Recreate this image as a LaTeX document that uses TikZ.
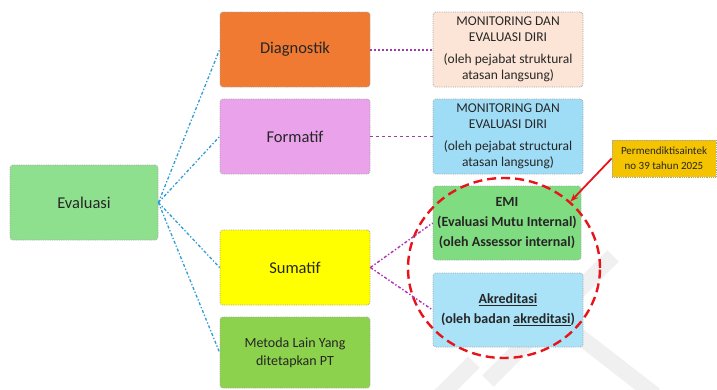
\documentclass[tikz,border=0pt]{standalone}
\usepackage{fontspec}
\setmainfont{Carlito}
\usetikzlibrary{shapes.geometric,arrows.meta}
\definecolor{evalgreen}{HTML}{8EE08E}
\definecolor{diagorange}{HTML}{F07A32}
\definecolor{formpink}{HTML}{EAA2EA}
\definecolor{sumyellow}{HTML}{FFFF00}
\definecolor{metgreen}{HTML}{8DD24C}
\definecolor{monpeach}{HTML}{FCE4D6}
\definecolor{monblue}{HTML}{9FDDF7}
\definecolor{emigreen}{HTML}{80DC80}
\definecolor{akrblue}{HTML}{AAE3F8}
\definecolor{permgold}{HTML}{F5C400}
\definecolor{linkblue}{HTML}{2E9BD6}
\definecolor{linkpurple}{HTML}{9B3FA5}
\definecolor{ringred}{HTML}{E8141B}
\begin{document}
\begin{tikzpicture}[x=1pt,y=-1pt,
  box/.style={draw=gray!70, line width=0.8pt, densely dotted, rounded corners=3pt, minimum width=150pt,
    minimum height=75pt, inner sep=2pt, align=center, text=black!85},
  bigtext/.style={font=\fontsize{16.5}{20}\selectfont},
  midtext/.style={font=\fontsize{13.5}{15.5}\selectfont},
  boldtext/.style={font=\bfseries\fontsize{14}{20}\selectfont},
  bluelink/.style={draw=linkblue, line width=1.3pt, dash dot},
  mark stripe/.style={draw=gray!12, line width=16pt}]
  \useasboundingbox (0,0) rectangle (717,389);
  % watermark
  \draw[mark stripe] (613,256) -- (488,381);
  \draw[mark stripe] (548,312) -- (655,395);
  \draw[mark stripe] (474,362) -- (440,396);
  % left column
  \node[box, fill=evalgreen, bigtext, minimum width=148pt] (eval) at (84,202.5) {Evaluasi};
  \node[box, fill=diagorange, bigtext] (diag) at (295,49.5) {Diagnostik};
  \node[box, fill=formpink, bigtext] (form) at (295,136.5) {Formatif};
  \node[box, fill=sumyellow, bigtext] (sum) at (295,267.5) {Sumatif};
  \node[box, fill=metgreen, font=\fontsize{14}{18}\selectfont, minimum height=71pt] (met) at (295,352.5)
    {Metoda Lain Yang\\ditetapkan PT};
  % right column
  \node[box, fill=monpeach, midtext] (mon1) at (508,49.5)
    {MONITORING DAN\\EVALUASI DIRI\\[7pt](oleh pejabat struktural\\atasan langsung)};
  \node[box, fill=monblue, midtext] (mon2) at (508,136.5)
    {MONITORING DAN\\EVALUASI DIRI\\[7pt](oleh pejabat structural\\atasan langsung)};
  \node[box, fill=emigreen, boldtext, minimum width=148pt, minimum height=74pt] (emi) at (507,223)
    {EMI\\(Evaluasi Mutu Internal)\\(oleh Assessor internal)};
  \node[box, fill=akrblue, boldtext, minimum height=74pt] (akr) at (508,310)
    {\underline{Akreditasi}\\(oleh badan \underline{akreditasi})};
  \node[box, fill=permgold, font=\fontsize{11}{15}\selectfont, rounded corners=0pt,
    minimum width=104pt, minimum height=37pt] (perm) at (664,158.5)
    {Permendiktisaintek\\no 39 tahun 2025};
  % red ring
  \node[draw=ringred, ellipse, line width=2.4pt, dash pattern=on 9pt off 5pt,
    minimum width=192pt, minimum height=180pt, inner sep=0pt] (ring) at (504,268) {};
  % connectors
  \draw[bluelink] (eval.east) -- (diag.west);
  \draw[bluelink] (eval.east) -- (form.west);
  \draw[bluelink] (eval.east) -- (sum.west);
  \draw[bluelink] (eval.east) -- (met.west);
  \draw[linkpurple, line width=2pt, dotted] (diag.east) -- (mon1.west);
  \draw[linkpurple, line width=1.6pt, dashed] (form.east) -- (mon2.west);
  \draw[linkpurple!80!magenta, line width=1.4pt, dash dot] (sum.east) -- (emi.west);
  \draw[linkpurple!80!magenta, line width=1.4pt, dash dot] (sum.east) -- (akr.west);
  \draw[ringred, line width=1.8pt, -{Stealth[length=8pt]}] (perm.west) -- (ring.45);
\end{tikzpicture}
\end{document}
